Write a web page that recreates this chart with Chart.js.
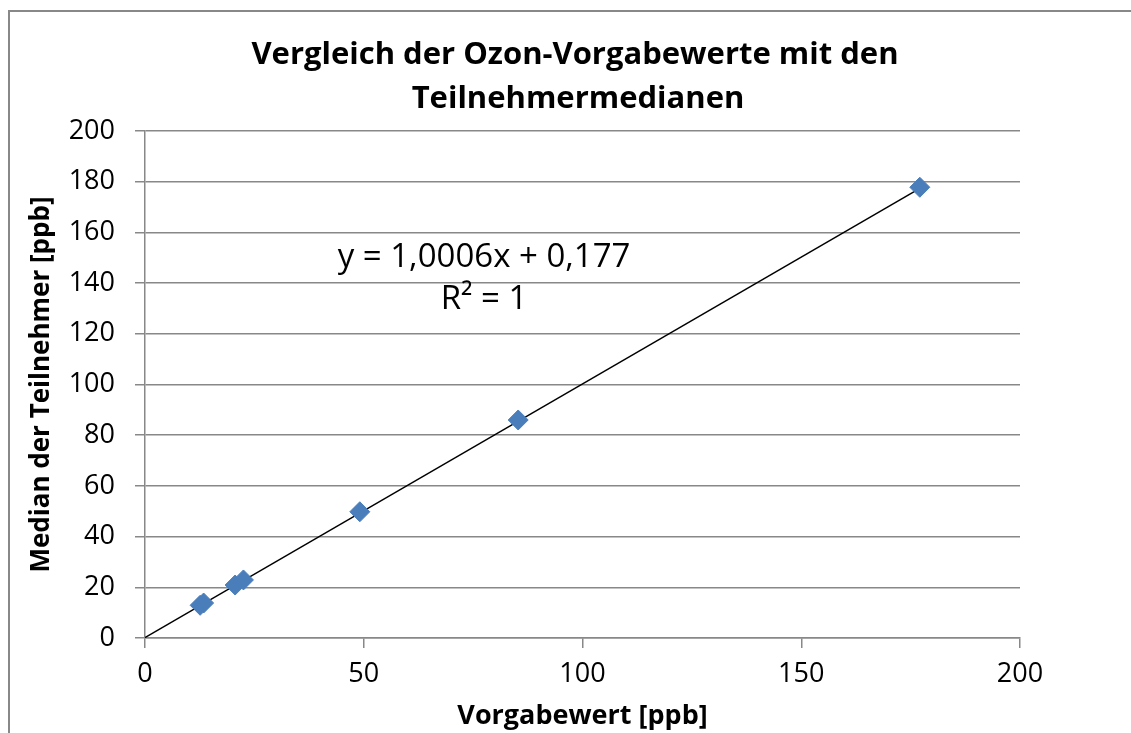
<!DOCTYPE html>
<html>
<head>
<meta charset="utf-8">
<script src="https://cdn.jsdelivr.net/npm/chart.js@4"></script>
<style>
  html, body { margin: 0; padding: 0; background: #fff; }
  #wrap { width: 1131px; height: 733px; position: relative; }
</style>
</head>
<body>
<div id="wrap"><canvas id="ozonChart" width="1131" height="733"></canvas></div>
<script>
// ===== DATA =====
const vorgabe = [12.6, 13.4, 20.6, 22.5, 49.1, 85.3, 177.1];
const median  = [12.9, 13.8, 20.9, 22.9, 49.8, 86.0, 177.8];
const trendX = [0, 177.1];
const trendY = [0.18, 177.4];
const xTicks = [0, 50, 100, 150, 200];
const yTicks = [0, 20, 40, 60, 80, 100, 120, 140, 160, 180, 200];
const titleLines = ['Vergleich der Ozon-Vorgabewerte mit den', 'Teilnehmermedianen'];
const eqLines = ['y = 1,0006x + 0,177', 'R² = 1'];
const eqAnchor = { x: 77.5, y: [150, 133.3] };

const FONT = "'Open Sans', sans-serif";
const gridCol = '#888888';

// ===== PLUGIN: frame, title, equation =====
const decor = {
    id: 'decor',
    beforeDraw(chart) {
        const c = chart.ctx;
        c.save();
        c.strokeStyle = gridCol;
        c.lineWidth = 2;
        c.beginPath();
        c.moveTo(9, 733);
        c.lineTo(9, 11);
        c.lineTo(1131, 11);
        c.stroke();
        c.restore();
    },
    afterDraw(chart) {
        const c = chart.ctx;
        c.save();
        c.fillStyle = '#000';
        c.textAlign = 'center';
        c.textBaseline = 'middle';
        c.font = 'bold 31px ' + FONT;
        c.fillText(titleLines[0], 575, 55);
        c.fillText(titleLines[1], 578, 99);

        const xs = chart.scales.x, ys = chart.scales.y;
        c.font = '33px ' + FONT;
        eqLines.forEach((t, i) => {
            c.fillText(t, xs.getPixelForValue(eqAnchor.x), ys.getPixelForValue(eqAnchor.y[i]));
        });
        c.restore();
    }
};

const points = vorgabe.map((v, i) => ({ x: v, y: median[i] }));
const trend = trendX.map((v, i) => ({ x: v, y: trendY[i] }));

new Chart(document.getElementById('ozonChart'), {
    type: 'scatter',
    data: {
        datasets: [
            {
                label: 'Trend',
                type: 'line',
                data: trend,
                borderColor: '#000',
                borderWidth: 1.5,
                pointRadius: 0,
                fill: false,
                order: 2
            },
            {
                label: 'Median',
                data: points,
                pointStyle: 'rectRot',
                pointRadius: 10,
                pointBackgroundColor: '#4a7ebb',
                pointBorderColor: '#4a7ebb',
                pointBorderWidth: 1,
                order: 1
            }
        ]
    },
    options: {
        responsive: false,
        animation: false,
        layout: { padding: { top: 131, right: 111, left: 0, bottom: 0 } },
        plugins: { legend: { display: false }, tooltip: { enabled: false } },
        scales: {
            x: {
                type: 'linear',
                min: 0, max: 200,
                afterBuildTicks: (s) => { s.ticks = xTicks.map(v => ({ value: v })); },
                afterFit: (s) => { s.height = 95; },
                grid: { display: true, drawOnChartArea: false, drawTicks: true, tickLength: 10, color: gridCol, lineWidth: 1.5 },
                border: { display: true, color: gridCol, width: 1.5 },
                ticks: { color: '#000', font: { family: FONT, size: 27 }, padding: 10, maxRotation: 0 },
                title: { display: true, text: 'Vorgabewert [ppb]', color: '#000', font: { family: FONT, size: 27, weight: 'bold' }, padding: { top: 0, bottom: 0 } }
            },
            y: {
                type: 'linear',
                min: 0, max: 200,
                afterBuildTicks: (s) => { s.ticks = yTicks.map(v => ({ value: v })); },
                afterFit: (s) => { s.width = 145; },
                grid: { display: true, drawOnChartArea: true, drawTicks: true, tickLength: 10, color: gridCol, lineWidth: 1.5 },
                border: { display: true, color: gridCol, width: 1.5 },
                ticks: { color: '#000', font: { family: FONT, size: 27 }, padding: 20 },
                title: { display: true, text: 'Median der Teilnehmer [ppb]', color: '#000', font: { family: FONT, size: 26, weight: 'bold' }, padding: { top: 26, bottom: 0 } }
            }
        }
    },
    plugins: [decor]
});
</script>
</body>
</html>
